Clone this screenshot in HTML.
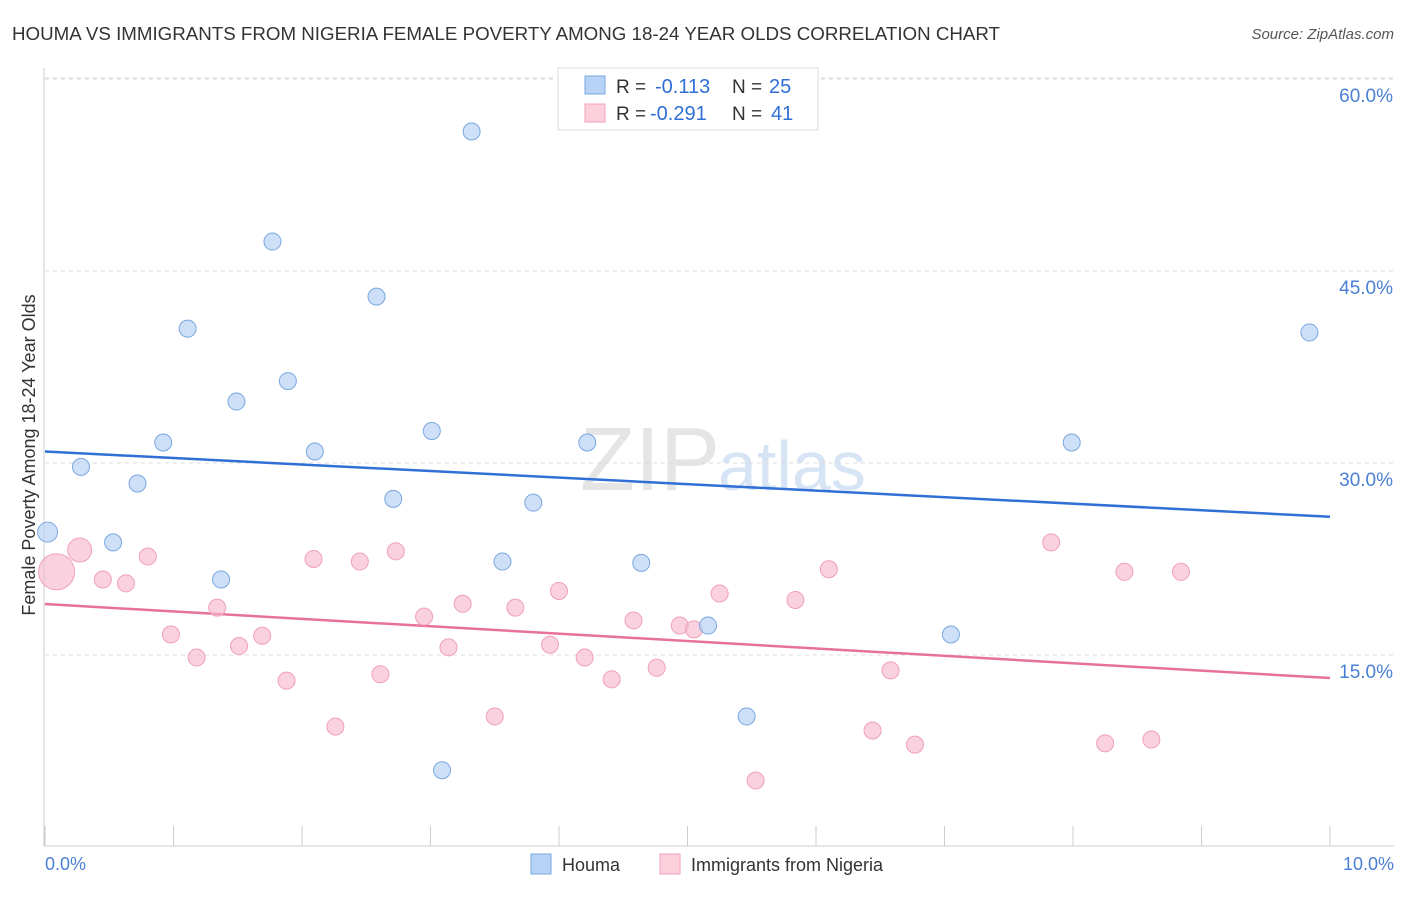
<!DOCTYPE html>
<html><head><meta charset="utf-8"><style>
body{margin:0;background:#fff;font-family:"Liberation Sans",sans-serif;}
svg text{font-family:"Liberation Sans",sans-serif;}
</style></head><body>
<svg width="1406" height="892" xmlns="http://www.w3.org/2000/svg">
<text x="12" y="40" font-size="18" fill="#333" textLength="988" lengthAdjust="spacingAndGlyphs">HOUMA VS IMMIGRANTS FROM NIGERIA FEMALE POVERTY AMONG 18-24 YEAR OLDS CORRELATION CHART</text>
<text x="1394" y="39" font-size="15" fill="#555" text-anchor="end" font-style="italic">Source: ZipAtlas.com</text>
<text x="720" y="490" font-size="90" fill="#e5e5e5" text-anchor="end" font-family="Liberation Serif">ZIP</text>
<text x="718" y="490" font-size="70" fill="#d6e4f5">atlas</text>
<g id="grid"></g>
<g id="axes"></g>
<g id="lines"></g>
<g id="pts"></g>
<text x="35" y="455" font-size="18" fill="#333" text-anchor="middle" transform="rotate(-90 35 455)">Female Poverty Among 18-24 Year Olds</text>
<text x="45" y="870" font-size="18" fill="#4a7fd4">0.0%</text>
<text x="1394" y="870" font-size="18" fill="#4a7fd4" text-anchor="end">10.0%</text>
<g>
<rect x="558" y="68" width="260" height="62" fill="#fff" stroke="#ddd"/>
<rect x="585" y="76" width="20" height="18" fill="#b8d3f5" stroke="#7aa7e0"/>
<rect x="585" y="104" width="20" height="18" fill="#fbcfdc" stroke="#f0a0b8"/>
<text x="616" y="93" font-size="19" fill="#333">R =</text>
<text x="655" y="93" font-size="20" fill="#2f6fd6">-0.113</text>
<text x="732" y="93" font-size="19" fill="#333">N =</text>
<text x="769" y="93" font-size="20" fill="#2f6fd6">25</text>
<text x="616" y="120" font-size="19" fill="#333">R =</text>
<text x="650" y="120" font-size="20" fill="#2f6fd6">-0.291</text>
<text x="732" y="120" font-size="19" fill="#333">N =</text>
<text x="771" y="120" font-size="20" fill="#2f6fd6">41</text>
</g>
<g>
<rect x="531" y="854" width="20" height="20" fill="#b8d3f5" stroke="#7aa7e0"/>
<text x="562" y="871" font-size="18" fill="#333">Houma</text>
<rect x="660" y="854" width="20" height="20" fill="#fbcfdc" stroke="#f0a0b8"/>
<text x="691" y="871" font-size="18" fill="#333">Immigrants from Nigeria</text>
</g>
</svg>
<script>
const yTicks=[15,30,45,60];
const yTickLabels=["15.0%","30.0%","45.0%","60.0%"];
const xTicks=[0,1,2,3,4,5,6,7,8,9,10];
const houmaX=[0.02,0.28,0.53,0.72,0.92,1.11,1.37,1.49,1.77,1.89,2.10,2.58,2.71,3.01,3.09,3.32,3.56,3.80,4.22,4.64,5.16,5.46,7.05,7.99,9.84];
const houmaY=[24.6,29.7,23.8,28.4,31.6,40.5,20.9,34.8,47.3,36.4,30.9,43.0,27.2,32.5,6.0,55.9,22.3,26.9,31.6,22.2,17.3,10.2,16.6,31.6,40.2];
const nigX=[0.09,0.27,0.45,0.63,0.80,0.98,1.18,1.34,1.51,1.69,1.88,2.09,2.26,2.45,2.61,2.73,2.95,3.14,3.25,3.50,3.66,3.93,4.00,4.20,4.41,4.58,4.76,4.94,5.05,5.25,5.53,5.84,6.10,6.44,6.58,6.77,7.83,8.25,8.40,8.61,8.84];
const nigY=[21.5,23.2,20.9,20.6,22.7,16.6,14.8,18.7,15.7,16.5,13.0,22.5,9.4,22.3,13.5,23.1,18.0,15.6,19.0,10.2,18.7,15.8,20.0,14.8,13.1,17.7,14.0,17.3,17.0,19.8,5.2,19.3,21.7,9.1,13.8,8.0,23.8,8.1,21.5,8.4,21.5];
const houmaTrend=[30.9,25.8];
const nigTrend=[18.98,13.2];
const NS="http://www.w3.org/2000/svg";
const sx=v=>45+v*128.5, sy=v=>847-v*12.8;
function mk(t,a,p){const e=document.createElementNS(NS,t);for(const k in a)e.setAttribute(k,a[k]);document.getElementById(p).appendChild(e);return e;}
yTicks.forEach((t,i)=>{
 const g=mk('line',{x1:45,x2:1394,y1:sy(t),y2:sy(t),stroke:'#ddd','stroke-dasharray':'4,4'},'grid');
 
 
 const l=mk('text',{x:1393,y:sy(t)+23,'font-size':19,fill:'#4a7fd4','text-anchor':'end'},'grid');
 l.textContent=yTickLabels[i];
 
 
});
const tg=mk('line',{x1:45,x2:1394,y1:78,y2:78,stroke:'#ddd','stroke-dasharray':'4,4'},'grid');


const ya=mk('line',{x1:44,x2:44,y1:68,y2:846,stroke:'#ccc'},'axes');


const xa=mk('line',{x1:44,x2:1394,y1:846,y2:846,stroke:'#ccc'},'axes');


xTicks.forEach(t=>{const e=mk('line',{x1:sx(t),x2:sx(t),y1:826,y2:846,stroke:'#ccc'},'axes');
 
 });
const l1=mk('line',{x1:sx(0),x2:sx(10),y1:sy(houmaTrend[0]),y2:sy(houmaTrend[1]),stroke:'#2f6fd6','stroke-width':2.5},'lines');


const l2=mk('line',{x1:sx(0),x2:sx(10),y1:sy(nigTrend[0]),y2:sy(nigTrend[1]),stroke:'#e8719a','stroke-width':2.5},'lines');


nigX.forEach((x,i)=>{const c=mk('circle',{cx:sx(x),cy:sy(nigY[i]),r:i==0?18:(i==1?12:8.5),fill:'rgba(248,185,205,0.65)',stroke:'#f0a0b8','stroke-width':1},'pts');
 
 });
houmaX.forEach((x,i)=>{const c=mk('circle',{cx:sx(x),cy:sy(houmaY[i]),r:i==0?10:8.5,fill:'rgba(184,211,245,0.7)',stroke:'#7aa7e0','stroke-width':1},'pts');
 
 });
</script>
</body></html>
